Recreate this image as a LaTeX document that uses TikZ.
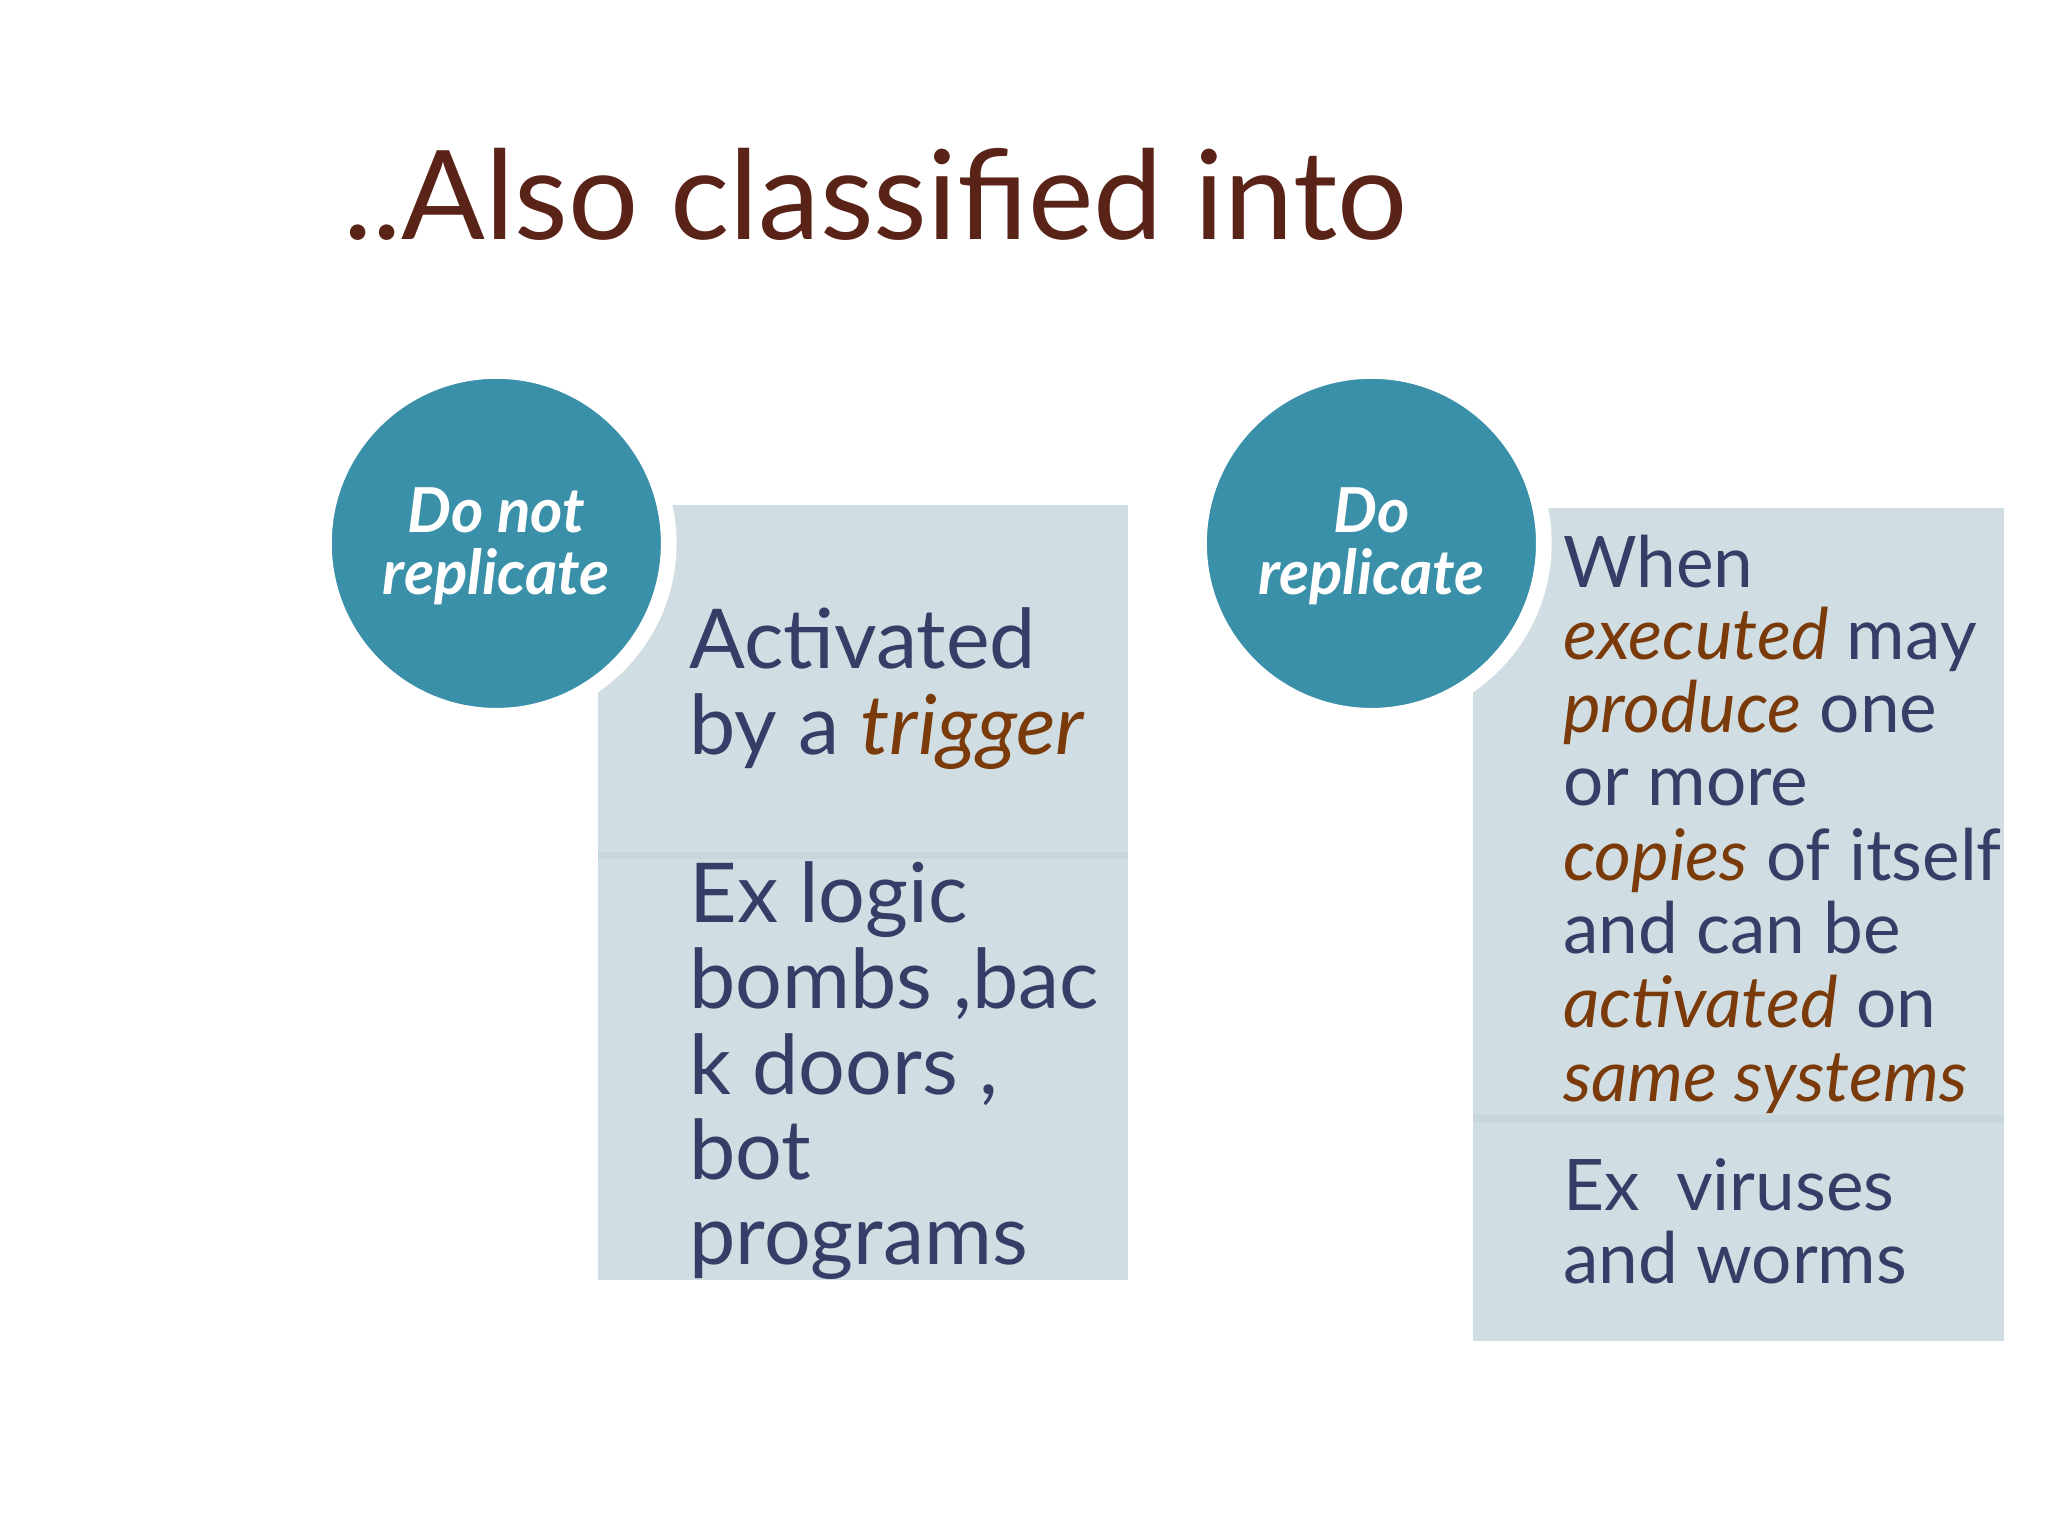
\documentclass[tikz,border=0pt]{standalone}
\usepackage{fontspec}
\setmainfont{Lato}
\begin{document}
\definecolor{teal}{HTML}{3A90A8}
\definecolor{boxc}{HTML}{D0DEE3}
\definecolor{sepc}{HTML}{C8D7DC}
\definecolor{navy}{HTML}{353E66}
\definecolor{brn}{HTML}{7A3A0A}
\definecolor{ttl}{HTML}{5A2318}
\begin{tikzpicture}[x=0.1mm,y=-0.1mm,
  bl/.style={anchor=base west,inner sep=0pt,text=navy,font=\fontsize{18}{20}\selectfont},
  br/.style={anchor=base west,inner sep=0pt,text=navy,font=\fontsize{15.5}{17}\selectfont},
  cl/.style={anchor=base,inner sep=0pt,text=white,font=\fontsize{13.5}{15}\selectfont\bfseries\itshape},
  circ/.style={circle,fill=teal,draw=white,line width=1.2mm,minimum size=264*0.1mm,inner sep=0pt}]
\useasboundingbox (0,0) rectangle (1568,1176);
\fill[white] (0,0) rectangle (1568,1176);
\node[anchor=base west,inner sep=0pt,text=ttl,font=\fontsize{27}{30}\selectfont] (title) at (262,183) {..Also classified into};
% left
\fill[boxc] (458,387) rectangle (864,980);
\draw[sepc,line width=0.6mm] (458,655) -- (864,655);
\node[circ] (c1) at (380,416) {};
\node[cl] (c1a) at (380,408) {Do not};
\node[cl] (c1b) at (380,455) {replicate};
\node[bl] (l1) at (527,512) {Activated};
\node[bl] (l2) at (527,578) {by a \textcolor{brn}{\itshape trigger}};
\node[bl] (l3) at (527,706) {Ex logic};
\node[bl] (l4) at (527,772) {bombs ,bac};
\node[bl] (l5) at (527,838) {k doors ,};
\node[bl] (l6) at (527,903) {bot};
\node[bl] (l7) at (527,968) {programs};
% right
\fill[boxc] (1128,389) rectangle (1534,1027);
\draw[sepc,line width=0.6mm] (1128,857) -- (1534,857);
\node[circ] (c2) at (1050,416) {};
\node[cl] (c2a) at (1050,408) {Do};
\node[cl] (c2b) at (1050,455) {replicate};
\node[br] (r1) at (1196,450) {When};
\node[br] (r2) at (1196,505) {\textcolor{brn}{\itshape executed} may};
\node[br] (r3) at (1196,561) {\textcolor{brn}{\itshape produce} one};
\node[br] (r4) at (1196,617) {or more};
\node[br] (r5) at (1196,674) {\textcolor{brn}{\itshape copies} of itself};
\node[br] (r6) at (1196,730) {and can be};
\node[br] (r7) at (1196,787) {\textcolor{brn}{\itshape activated} on};
\node[br] (r8) at (1196,843) {\textcolor{brn}{\itshape same systems}};
\node[br] (r9) at (1196,927) {Ex\ \ viruses};
\node[br] (r10) at (1196,983) {and worms};
\end{tikzpicture}
\end{document}
